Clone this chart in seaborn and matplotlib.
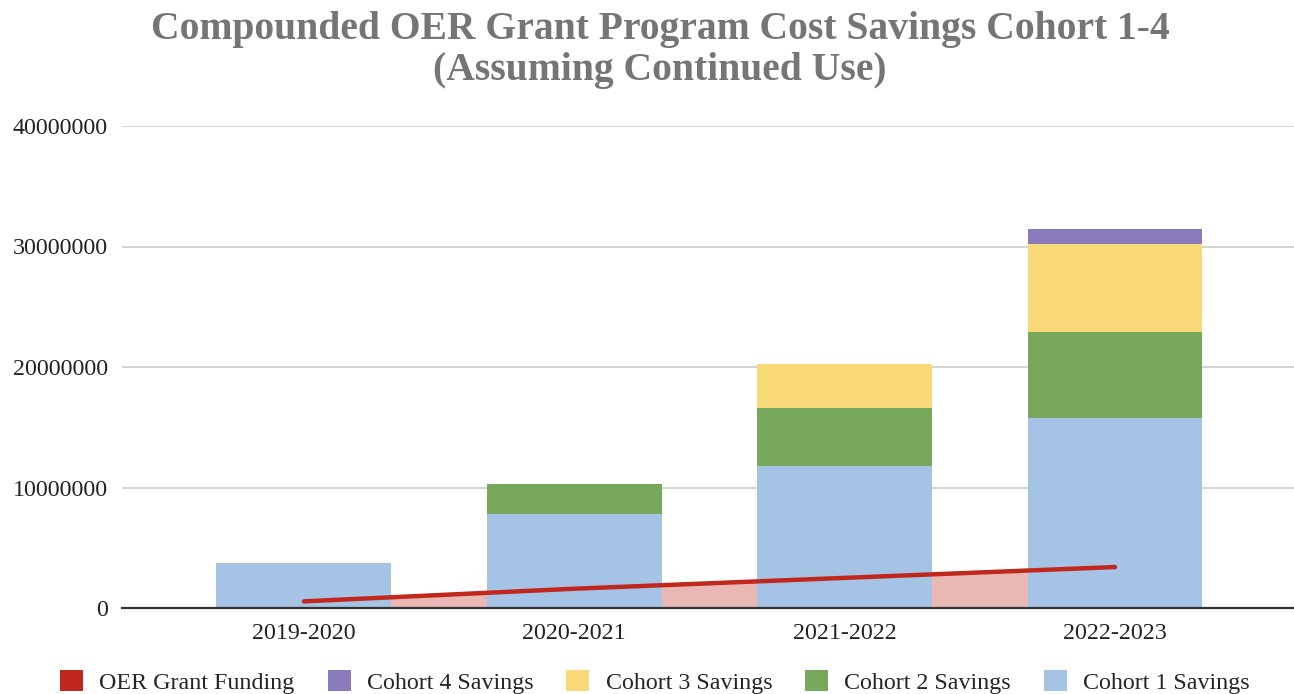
import matplotlib
matplotlib.use("Agg")
import matplotlib.pyplot as plt
import seaborn as sns
import pandas as pd
import numpy as np
from matplotlib.patches import Patch

years = ["2019-2020", "2020-2021", "2021-2022", "2022-2023"]
cohort1 = [3750000, 7800000, 11780000, 15770000]
cohort2 = [0, 2490000, 4810000, 7130000]
cohort3 = [0, 0, 3650000, 7300000]
cohort4 = [0, 0, 0, 1250000]
grant_funding = [550000, 1600000, 2500000, 3400000]
yticks = [0, 10000000, 20000000, 30000000, 40000000]

colors = {
    "Cohort 1 Savings": "#a5c3e4",
    "Cohort 2 Savings": "#77a75b",
    "Cohort 3 Savings": "#f8d877",
    "Cohort 4 Savings": "#8a7cbc",
    "OER Grant Funding": "#c1281d",
}

sns.set_theme(style="white")
plt.rcParams["font.family"] = ["Liberation Serif", "DejaVu Serif"]

fig = plt.figure(figsize=(12.94, 6.94), dpi=100)
ax = fig.add_axes([122 / 1294, 1 - 608 / 694, 1 - 122 / 1294, (608 - 126) / 694])

df = pd.DataFrame({
    "year": years,
    "c1": cohort1,
    "c2": cohort2,
    "c3": cohort3,
    "c4": cohort4,
})
df["s1"] = df["c1"]
df["s2"] = df["s1"] + df["c2"]
df["s3"] = df["s2"] + df["c3"]
df["s4"] = df["s3"] + df["c4"]

width = 0.647
for col, name in [("s4", "Cohort 4 Savings"), ("s3", "Cohort 3 Savings"),
                  ("s2", "Cohort 2 Savings"), ("s1", "Cohort 1 Savings")]:
    sns.barplot(data=df, x="year", y=col, color=colors[name], width=width,
                saturation=1, ax=ax, zorder=2, linewidth=0, errorbar=None)

xpos = np.arange(len(years))
ax.fill_between(xpos, 0, grant_funding, color=colors["OER Grant Funding"],
                alpha=0.33, linewidth=0, zorder=1)
sns.lineplot(x=xpos, y=grant_funding, color=colors["OER Grant Funding"],
             linewidth=3.2, ax=ax, zorder=3)

ax.set_xlim(-0.673, 3.662)
ax.set_ylim(0, 40000000)
ax.set_yticks(yticks)
ax.set_yticklabels([str(v) for v in yticks])
ax.set_xlabel("")
ax.set_ylabel("")
ax.grid(axis="y", color="#cccccc", linewidth=1.2, zorder=0)
ax.set_axisbelow(True)
for s in ["top", "right", "left"]:
    ax.spines[s].set_visible(False)
ax.spines["bottom"].set_color("#333333")
ax.spines["bottom"].set_linewidth(1.6)
ax.spines["bottom"].set_zorder(4)
ax.tick_params(axis="both", length=0, labelsize=17.3, colors="#222222")
ax.tick_params(axis="y", pad=10)
ax.tick_params(axis="x", pad=11)

fig.text(660 / 1294, 1 - 50 / 694,
         "Compounded OER Grant Program Cost Savings Cohort 1-4\n(Assuming Continued Use)",
         ha="center", va="center", fontsize=28.5, fontweight="bold", color="#757575",
         linespacing=1.17)

handles = [Patch(facecolor=colors[n], edgecolor="none", label=n) for n in
           ["OER Grant Funding", "Cohort 4 Savings", "Cohort 3 Savings",
            "Cohort 2 Savings", "Cohort 1 Savings"]]
fig.legend(handles=handles, loc="center", bbox_to_anchor=(655 / 1294, 1 - 682 / 694),
           ncol=5, frameon=False, fontsize=17.3, handlelength=0.96, handleheight=0.96,
           handletextpad=0.67, columnspacing=1.375, borderpad=0)

fig.savefig("out.png", dpi=100)
